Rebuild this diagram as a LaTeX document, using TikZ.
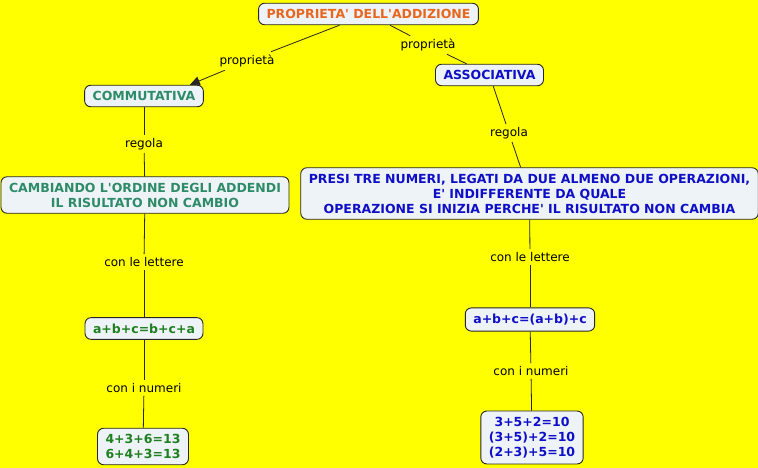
\documentclass[tikz,border=0pt]{standalone}
\usepackage{fontspec}
\setmainfont{DejaVu Sans}[Ligatures=TeXOff]
\usetikzlibrary{arrows.meta}
\definecolor{arancio}{RGB}{232,102,30}
\definecolor{verdeacqua}{RGB}{46,139,104}
\definecolor{verde}{RGB}{30,128,30}
\definecolor{blu}{RGB}{15,15,200}
\definecolor{sfondo}{RGB}{255,255,0}
\definecolor{riempi}{RGB}{238,243,247}
\begin{document}
\begin{tikzpicture}[x=1pt,y=-1pt]
\tikzstyle{concetto}=[draw=black!85, fill=riempi, line width=0.9pt, rounded corners=6pt, inner xsep=8pt, inner ysep=6pt, align=center, font=\fontsize{12.5}{15}\selectfont\bfseries]
\tikzstyle{legame}=[inner sep=3pt, font=\fontsize{12}{14}\selectfont]
\tikzstyle{filo}=[draw=black!85, line width=0.8pt]
    \fill[sfondo] (0,0) rectangle (758,468);
    \useasboundingbox (0,0) rectangle (758,468);

    \node[concetto, text=arancio] (add) at (368.5,14) {PROPRIETA' DELL'ADDIZIONE};
    \node[concetto, text=verdeacqua] (comm) at (144,96) {COMMUTATIVA};
    \node[concetto, text=blu] (ass) at (489.5,75) {ASSOCIATIVA};
    \node[concetto, text=verdeacqua] (camb) at (145,195) {CAMBIANDO L'ORDINE DEGLI ADDENDI\\IL RISULTATO NON CAMBIO};
    \node[concetto, text=blu] (presi) at (529.5,193.5) {PRESI TRE NUMERI, LEGATI DA DUE ALMENO DUE OPERAZIONI,\\E' INDIFFERENTE DA QUALE\\OPERAZIONE SI INIZIA PERCHE' IL RISULTATO NON CAMBIA};
    \node[concetto, text=verde] (lettc) at (144,328.5) {a+b+c=b+c+a};
    \node[concetto, text=blu] (letta) at (530,319.5) {a+b+c=(a+b)+c};
    \node[concetto, text=verde] (numc) at (143,446.5) {4+3+6=13\\6+4+3=13};
    \node[concetto, text=blu] (numa) at (532,437.5) {3+5+2=10\\(3+5)+2=10\\(2+3)+5=10};

    \node[legame] (l1) at (247,61) {proprietà};
    \node[legame] (l2) at (428,45) {proprietà};
    \node[legame] (l3) at (144,144) {regola};
    \node[legame] (l4) at (509,133) {regola};
    \node[legame] (l5) at (144,262) {con le lettere};
    \node[legame] (l6) at (530,257) {con le lettere};
    \node[legame] (l7) at (144,388) {con i numeri};
    \node[legame] (l8) at (531,371) {con i numeri};

    \draw[filo] (add) -- (l1);
    \draw[filo, -{Triangle[length=10pt,width=9pt]}] (l1) -- ([xshift=-14pt]comm.north east);
    \draw[filo] (add) -- (l2);
    \draw[filo] (l2) -- (ass);

    \draw[filo] (comm) -- (l3);
    \draw[filo] (l3) -- (camb);
    \draw[filo] (camb) -- (l5);
    \draw[filo] (l5) -- (lettc);
    \draw[filo] (lettc) -- (l7);
    \draw[filo] (l7) -- (numc);

    \draw[filo] (ass) -- (l4);
    \draw[filo] (l4) -- (presi);
    \draw[filo] (presi) -- (l6);
    \draw[filo] (l6) -- (letta);
    \draw[filo] (letta) -- (l8);
    \draw[filo] (l8) -- (numa);

\end{tikzpicture}
\end{document}
